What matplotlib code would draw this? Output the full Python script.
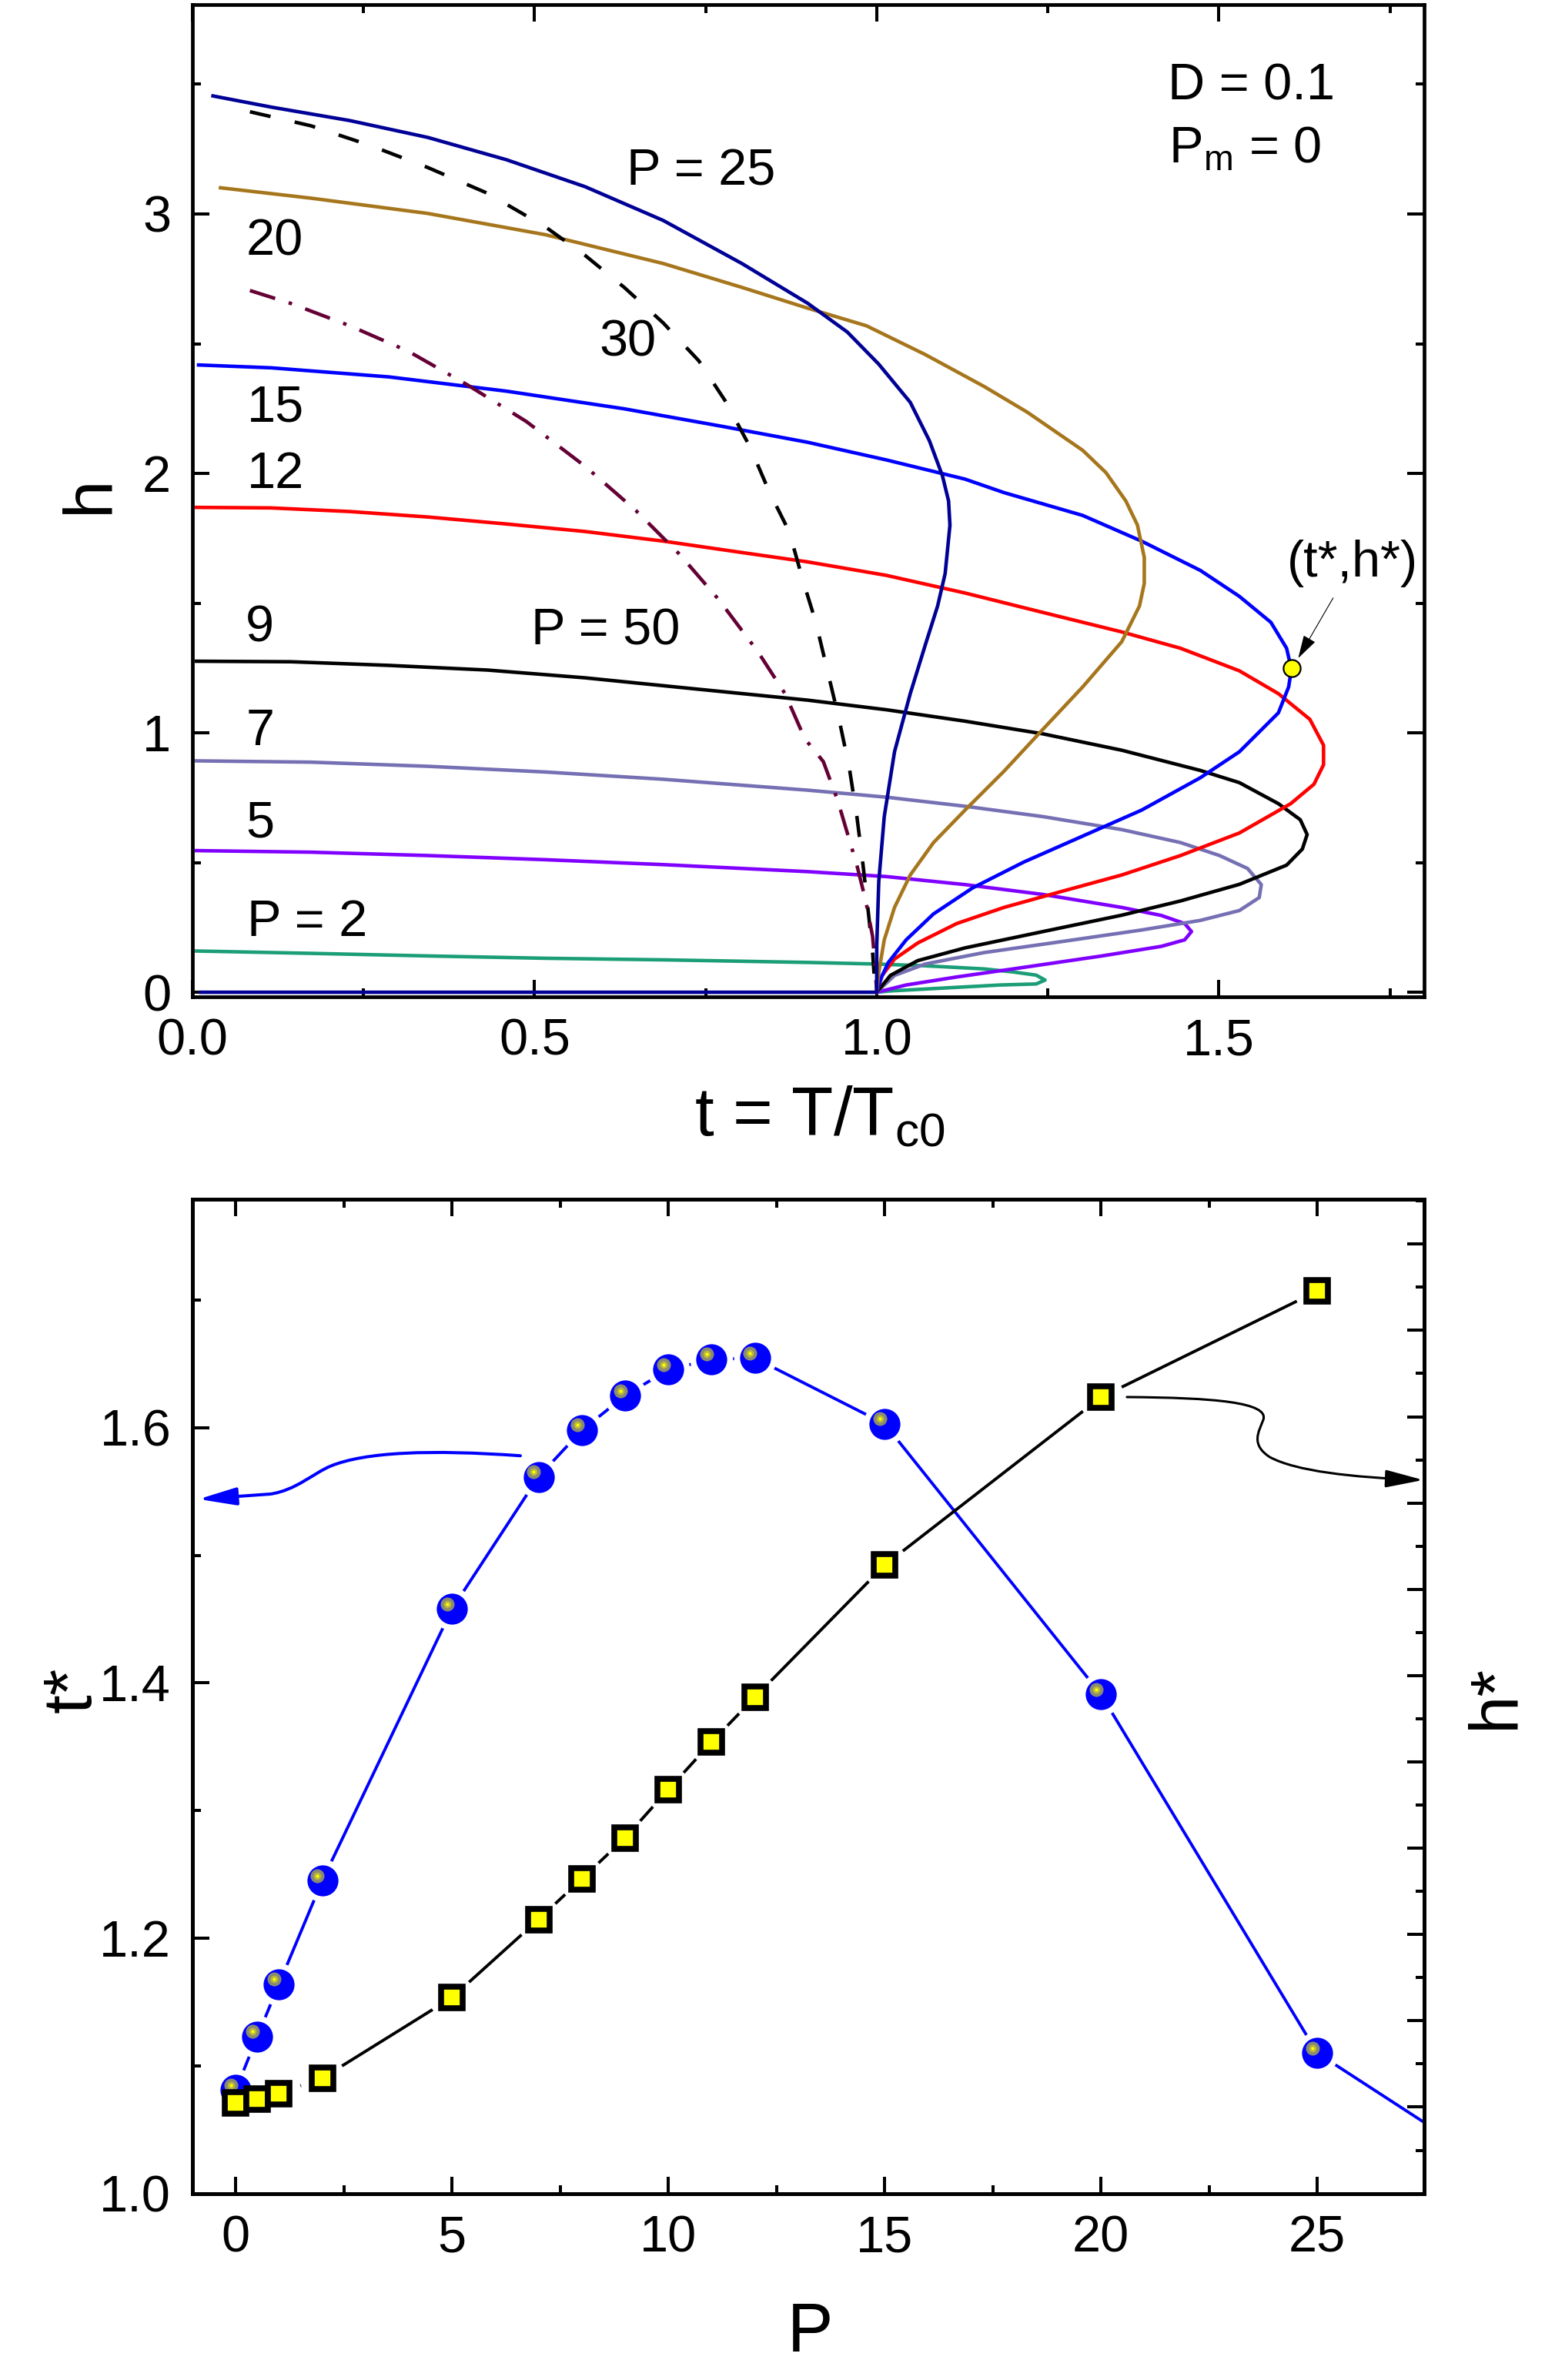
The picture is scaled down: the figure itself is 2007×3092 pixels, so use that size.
import numpy as np
import matplotlib
matplotlib.use('Agg')
from matplotlib import pyplot as plt
from matplotlib.path import Path
from matplotlib.patches import FancyArrowPatch, ArrowStyle
from matplotlib.ticker import MultipleLocator
from matplotlib.transforms import offset_copy

plt.rcParams['font.family'] = ['Liberation Sans', 'DejaVu Sans']
plt.rcParams['mathtext.fontset'] = 'custom'
plt.rcParams['mathtext.rm'] = 'Liberation Sans'
plt.rcParams['mathtext.it'] = 'Liberation Sans'

# ---- top panel: h(t) for several P ----
t_p2 = [0.006, 0.173, 0.344, 0.516, 0.688, 0.899, 0.997, 1.071, 1.157, 1.20, 1.233, 1.246, 1.233, 1.18, 1.068, 1.019, 1.0]
h_p2 = [0.159, 0.150, 0.140, 0.131, 0.125, 0.115, 0.109, 0.102, 0.090, 0.078, 0.066, 0.047, 0.032, 0.028, 0.012, 0.005, 0.0]

t_p5 = [0.006, 0.173, 0.344, 0.516, 0.688, 0.899, 1.014, 1.129, 1.243, 1.358, 1.416, 1.450, 1.460, 1.450, 1.416, 1.329, 1.215, 1.117, 1.043, 1.0]
h_p5 = [0.546, 0.540, 0.527, 0.511, 0.492, 0.465, 0.446, 0.415, 0.377, 0.327, 0.296, 0.265, 0.234, 0.202, 0.177, 0.140, 0.096, 0.059, 0.028, 0.0]

t_p7 = [0.006, 0.173, 0.344, 0.516, 0.688, 0.899, 1.014, 1.129, 1.243, 1.358, 1.444, 1.501, 1.542, 1.562, 1.559, 1.530, 1.473, 1.387, 1.272, 1.157, 1.071, 1.026, 1.0]
h_p7 = [0.892, 0.887, 0.871, 0.849, 0.821, 0.779, 0.752, 0.717, 0.677, 0.627, 0.577, 0.527, 0.477, 0.415, 0.365, 0.315, 0.277, 0.240, 0.196, 0.153, 0.109, 0.065, 0.0]

t_p9 = [0.006, 0.144, 0.287, 0.431, 0.574, 0.717, 0.899, 1.014, 1.129, 1.243, 1.358, 1.473, 1.530, 1.587, 1.619, 1.629, 1.622, 1.599, 1.530, 1.444, 1.358, 1.243, 1.129, 1.060, 1.020, 1.0]
h_p9 = [1.276, 1.274, 1.260, 1.242, 1.212, 1.174, 1.126, 1.089, 1.045, 0.996, 0.933, 0.855, 0.808, 0.727, 0.665, 0.608, 0.552, 0.490, 0.416, 0.352, 0.297, 0.234, 0.171, 0.122, 0.065, 0.0]

t_p12 = [0.006, 0.115, 0.230, 0.344, 0.459, 0.574, 0.688, 0.803, 0.899, 1.014, 1.129, 1.243, 1.358, 1.444, 1.530, 1.587, 1.633, 1.653, 1.653, 1.639, 1.605, 1.530, 1.444, 1.358, 1.272, 1.186, 1.117, 1.060, 1.026, 1.008, 1.0]
h_p12 = [1.869, 1.867, 1.853, 1.832, 1.805, 1.776, 1.739, 1.695, 1.659, 1.607, 1.539, 1.464, 1.389, 1.326, 1.239, 1.151, 1.052, 0.952, 0.877, 0.802, 0.727, 0.614, 0.527, 0.452, 0.390, 0.327, 0.265, 0.190, 0.128, 0.065, 0.0]

t_p15 = [0.009, 0.115, 0.287, 0.459, 0.631, 0.775, 0.899, 1.014, 1.129, 1.186, 1.301, 1.387, 1.473, 1.530, 1.576, 1.599, 1.606, 1.602, 1.587, 1.530, 1.473, 1.387, 1.301, 1.215, 1.140, 1.083, 1.043, 1.017, 1.006, 1.0]
h_p15 = [2.418, 2.407, 2.372, 2.317, 2.249, 2.181, 2.120, 2.052, 1.978, 1.926, 1.838, 1.739, 1.626, 1.526, 1.426, 1.326, 1.245, 1.177, 1.077, 0.927, 0.827, 0.702, 0.602, 0.502, 0.402, 0.302, 0.202, 0.115, 0.053, 0.0]

t_p20 = [0.041, 0.173, 0.344, 0.516, 0.688, 0.803, 0.899, 0.985, 1.071, 1.157, 1.220, 1.301, 1.335, 1.364, 1.381, 1.391, 1.391, 1.384, 1.358, 1.301, 1.243, 1.186, 1.129, 1.083, 1.049, 1.026, 1.011, 1.003, 1.0]
h_p20 = [3.101, 3.061, 3.002, 2.920, 2.809, 2.717, 2.637, 2.569, 2.458, 2.335, 2.236, 2.089, 2.003, 1.894, 1.801, 1.676, 1.576, 1.489, 1.351, 1.177, 1.014, 0.852, 0.702, 0.577, 0.452, 0.327, 0.202, 0.077, 0.0]

t_p25 = [0.03, 0.115, 0.230, 0.344, 0.459, 0.574, 0.688, 0.803, 0.899, 0.957, 1.003, 1.049, 1.077, 1.096, 1.105, 1.107, 1.100, 1.089, 1.071, 1.049, 1.026, 1.011, 1.003, 1.0, 1.0, 0.012]
h_p25 = [3.455, 3.412, 3.360, 3.295, 3.209, 3.105, 2.975, 2.809, 2.656, 2.545, 2.421, 2.274, 2.126, 1.991, 1.894, 1.80, 1.614, 1.489, 1.339, 1.151, 0.927, 0.677, 0.427, 0.178, 0.0, 0.0]

t_p30 = [0.084, 0.173, 0.259, 0.344, 0.431, 0.516, 0.574, 0.631, 0.688, 0.740, 0.780, 0.815, 0.843, 0.872, 0.892, 0.911, 0.928, 0.945, 0.960, 0.971, 0.980, 0.988, 0.994, 0.998]
h_p30 = [3.394, 3.340, 3.265, 3.179, 3.080, 2.950, 2.840, 2.717, 2.580, 2.434, 2.274, 2.101, 1.929, 1.776, 1.589, 1.426, 1.239, 1.052, 0.864, 0.677, 0.490, 0.302, 0.153, 0.0]

t_p50 = [0.084, 0.144, 0.230, 0.316, 0.402, 0.488, 0.574, 0.625, 0.648, 0.712, 0.769, 0.826, 0.866, 0.895, 0.922, 0.943, 0.957, 0.971, 0.984, 0.994, 0.998, 1.0]
h_p50 = [2.705, 2.655, 2.569, 2.470, 2.341, 2.200, 2.027, 1.910, 1.857, 1.688, 1.514, 1.314, 1.151, 0.977, 0.889, 0.739, 0.614, 0.490, 0.352, 0.215, 0.090, 0.0]

# (t*, h*) marker on the P = 15 curve
star_t = [1.606]
star_h = [1.248]

# curve labels: text, t, h
curve_labels = ['P = 25', '20', '30', '15', '12', '9', 'P = 50', '7', '5', 'P = 2']
label_t = [0.634, 0.078, 0.594, 0.080, 0.080, 0.078, 0.495, 0.078, 0.078, 0.080]
label_h = [3.11, 2.84, 2.452, 2.20, 1.945, 1.351, 1.339, 0.954, 0.598, 0.217]

# ---- bottom panel: t*(P) and h*(P) ----
P_t = [0, 0.5, 1, 2, 5, 7, 8, 9, 10, 11, 12, 15, 20, 25, 30]
tstar = [1.081, 1.123, 1.164, 1.245, 1.458, 1.5615, 1.598, 1.625, 1.6455, 1.6535, 1.6545, 1.603, 1.391, 1.110, 1.0]
P_h = [0, 0.5, 1, 2, 5, 7, 8, 9, 10, 11, 12, 15, 20, 25]
hstar = [0.010, 0.018, 0.032, 0.067, 0.254, 0.435, 0.529, 0.624, 0.736, 0.846, 0.950, 1.256, 1.645, 1.891]

# curly pointer arrows (P, t*) with bezier control points
blue_arrow = [(6.58, 1.578), (4.5, 1.583), (3.0, 1.581), (2.2, 1.570),
              (1.8, 1.5645), (1.4, 1.551), (0.8, 1.548), (-0.86, 1.544)]
black_arrow = [(20.6, 1.624), (22.6, 1.6235), (23.9, 1.620), (23.75, 1.606),
               (23.65, 1.597), (23.45, 1.587), (23.9, 1.577),
               (24.5, 1.566), (25.8, 1.561), (27.45, 1.559)]

W, H = 2007, 3092
fig = plt.figure(figsize=(W / 100, H / 100), dpi=100)

TICK_FS = 48
LAB_FS = 64
SPINE_W = 3.4


def style_axes(ax, right=True):
    for s in ax.spines.values():
        s.set_linewidth(SPINE_W)
    ax.tick_params(which='both', direction='in', top=True, right=right,
                   width=2.9, labelsize=TICK_FS, pad=20)
    ax.tick_params(which='major', length=16)
    ax.tick_params(which='minor', length=8)


# ================= top panel =================
ax1 = fig.add_axes([250 / W, 1 - 1294.5 / H, 1600 / W, 1288.5 / H])
lw = 3.3
ax1.plot(t_p2, h_p2, color='#1b9e77', lw=lw)
ax1.plot(t_p5, h_p5, color='#8000ff', lw=lw)
ax1.plot(t_p7, h_p7, color='#7570b3', lw=lw)
ax1.plot(t_p9, h_p9, color='black', lw=lw)
ax1.plot(t_p12, h_p12, color='#ff0000', lw=lw)
ax1.plot(t_p15, h_p15, color='#0000ff', lw=lw)
ax1.plot(t_p20, h_p20, color='#a6761d', lw=lw)
ax1.plot(t_p30, h_p30, color='black', lw=lw, linestyle=(0, (6, 7)))
ax1.plot(t_p50, h_p50, color='#650035', lw=lw, linestyle=(0, (7.5, 4, 1, 4)))
ax1.plot(t_p25, h_p25, color='#000096', lw=lw)

ax1.plot(star_t, star_h, 'o', ms=16, mfc='#ffff00', mec='black', mew=1.6, zorder=6)
ax1.annotate('', xy=(1.616, 1.288), xytext=(1.667, 1.52),
             arrowprops=dict(arrowstyle=ArrowStyle('-|>', head_length=1.9, head_width=0.55),
                             mutation_scale=10, lw=0.8, color='black',
                             shrinkA=0, shrinkB=0), zorder=6)
ax1.text(1.695, 1.654, '(t*,h*)', fontsize=TICK_FS, ha='center', va='center')

for txt, x, y in zip(curve_labels, label_t, label_h):
    ax1.text(x, y, txt, fontsize=TICK_FS, ha='left', va='baseline')

ax1.text(1.425, 3.441, 'D = 0.1', fontsize=TICK_FS, ha='left', va='baseline')
ax1.text(1.426, 3.197, r'P$_{\mathregular{m}}$ = 0', fontsize=TICK_FS, ha='left', va='baseline')

ax1.set_xlim(0, 1.8)
ax1.set_ylim(-0.016, 3.807)
ax1.xaxis.set_major_locator(MultipleLocator(0.5))
ax1.xaxis.set_minor_locator(MultipleLocator(0.25))
ax1.yaxis.set_major_locator(MultipleLocator(1))
ax1.yaxis.set_minor_locator(MultipleLocator(0.5))
ax1.xaxis.set_major_formatter(matplotlib.ticker.FormatStrFormatter('%.1f'))
style_axes(ax1)

fig.text(140 / W, 1 - 642 / H, 'h', fontsize=LAB_FS, rotation=90,
         rotation_mode='anchor', ha='center', va='baseline')
fig.text(1065 / W, 1 - 1475 / H, r't = T/T$_{\mathregular{c0}}$', fontsize=LAB_FS,
         ha='center', va='baseline')

# ================= bottom panel =================
ax2 = fig.add_axes([250 / W, 1 - 2849.6 / H, 1600 / W, 1291.6 / H])
ax3 = ax2.twinx()
ax3.set_ylim(-0.2, 2.104)
ax3.yaxis.set_major_locator(MultipleLocator(0.2))
ax3.yaxis.set_minor_locator(MultipleLocator(0.1))
ax3.tick_params(which='both', direction='in', right=True, labelright=False,
                width=2.9, pad=20)
ax3.tick_params(which='major', length=16)
ax3.tick_params(which='minor', length=8)
for s in ax3.spines.values():
    s.set_linewidth(SPINE_W)

hs_tr = ax3.transData
ax2.plot(P_t, tstar, color='#0000ff', lw=2.8, zorder=2)
ax2.plot(P_h, hstar, color='black', lw=2.8, zorder=2, transform=hs_tr)

# white halos give the gaps around the symbols
ax2.plot(P_t, tstar, 'o', ms=40, mfc='white', mec='none', zorder=3)
ax2.plot(P_h, hstar, 'o', ms=43, mfc='white', mec='none', zorder=3, transform=hs_tr)

ax2.plot(P_t, tstar, 'o', ms=29, mfc='#0000ff', mec='none', zorder=4)
hl_tr = offset_copy(ax2.transData, fig=fig, x=-4.5, y=4.8, units='points')
ax2.plot(P_t, tstar, 'o', ms=13, mfc='#8a8a72', mec='none', zorder=4.1, transform=hl_tr)
ax2.plot(P_t, tstar, 'o', ms=7, mfc='#b8b840', mec='none', zorder=4.2, transform=hl_tr)
ax2.plot(P_t, tstar, 'o', ms=3, mfc='#ffff00', mec='none', zorder=4.3, transform=hl_tr)

ax2.plot(P_h, hstar, 's', ms=20.3, mfc='#ffff00', mec='black', mew=5.5, zorder=5,
         transform=hs_tr)

codes_blue = [Path.MOVETO] + [Path.CURVE4] * 6 + [Path.LINETO]
codes_black = [Path.MOVETO] + [Path.CURVE4] * 9
arr_style = ArrowStyle('-|>', head_length=1.5, head_width=0.35)
ax2.add_patch(FancyArrowPatch(path=Path(blue_arrow, codes_blue), arrowstyle=arr_style,
                              mutation_scale=20, color='#0000ff', lw=2.9, zorder=6))
ax2.add_patch(FancyArrowPatch(path=Path(black_arrow, codes_black), arrowstyle=arr_style,
                              mutation_scale=20, color='black', lw=2.2, zorder=6,
                              clip_on=False))

ax2.set_xlim(-1, 27.47)
ax2.set_ylim(1.0, 1.779)
ax2.xaxis.set_major_locator(MultipleLocator(5))
ax2.xaxis.set_minor_locator(MultipleLocator(2.5))
ax2.yaxis.set_major_locator(MultipleLocator(0.2))
ax2.yaxis.set_minor_locator(MultipleLocator(0.1))
ax2.yaxis.set_major_formatter(matplotlib.ticker.FormatStrFormatter('%.1f'))
style_axes(ax2, right=False)
ax3.set_zorder(ax2.get_zorder() - 1)
ax2.patch.set_visible(False)

fig.text(118 / W, 1 - 2195 / H, 't*', fontsize=LAB_FS, rotation=90,
         rotation_mode='anchor', ha='center', va='baseline')
fig.text(1966 / W, 1 - 2204 / H, 'h*', fontsize=LAB_FS, rotation=90,
         rotation_mode='anchor', ha='center', va='baseline')
fig.text(1052 / W, 1 - 3055 / H, 'P', fontsize=LAB_FS, ha='center', va='baseline')

fig.savefig('out.png', dpi=100)
